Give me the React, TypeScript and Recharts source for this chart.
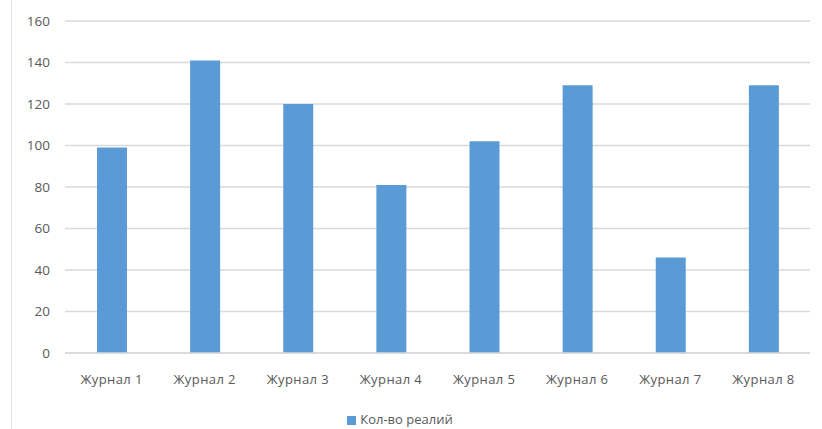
import React from 'react';
import { BarChart, Bar, XAxis, YAxis, CartesianGrid, Legend } from 'recharts';

const categories = ['Журнал 1', 'Журнал 2', 'Журнал 3', 'Журнал 4', 'Журнал 5', 'Журнал 6', 'Журнал 7', 'Журнал 8'];
const values = [99, 141, 120, 81, 102, 129, 46, 129];
const yTicks = [0, 20, 40, 60, 80, 100, 120, 140, 160];
const seriesName = 'Кол-во реалий';

const data = categories.map((c, i) => ({ name: c, value: values[i] }));

const font = '"Open Sans", "Liberation Sans", sans-serif';

export default function App() {
  return (
    <div style={{ position: 'absolute', left: 0, top: 0, width: 822, height: 429, background: '#fff', fontFamily: font }}>
      <div style={{ position: 'absolute', left: 11, top: 0, width: 1, height: 429, background: '#e4e4e4' }} />
      <BarChart width={822} height={429} data={data} margin={{ top: 21, right: 12, left: 0, bottom: 0 }} barCategoryGap={0}>
        <CartesianGrid vertical={false} stroke="#d9d9d9" strokeWidth={1.5} />
        <YAxis
          width={65}
          domain={[0, 160]}
          ticks={yTicks}
          axisLine={false}
          tickLine={false}
          tickSize={0}
          tickMargin={15}
          tick={{ fill: '#595959', fontSize: 13.5, fontFamily: font }}
        />
        <XAxis
          dataKey="name"
          height={56}
          axisLine={{ stroke: '#d9d9d9', strokeWidth: 1.5 }}
          tickLine={false}
          tickSize={0}
          tickMargin={22}
          tick={{ fill: '#595959', fontSize: 13, fontFamily: font, letterSpacing: 0.4 }}
        />
        <Legend
          verticalAlign="bottom"
          align="center"
          iconType="square"
          iconSize={9}
          wrapperStyle={{ fontSize: 13, color: '#595959', fontFamily: font, lineHeight: '20px' }}
          formatter={(v) => <span style={{ color: '#595959' }}>{v}</span>}
        />
        <Bar dataKey="value" name={seriesName} fill="#5B9BD5" barSize={30} isAnimationActive={false} />
      </BarChart>
    </div>
  );
}
